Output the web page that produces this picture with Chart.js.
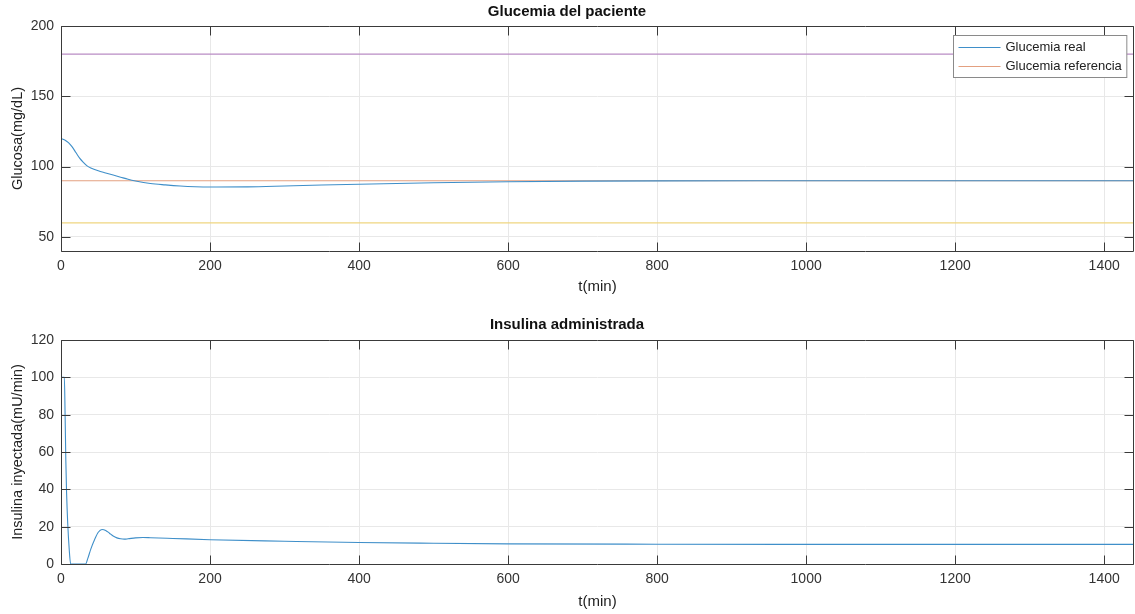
<!DOCTYPE html>
<html>
<head>
<meta charset="utf-8">
<script src="https://cdn.jsdelivr.net/npm/chart.js@4/dist/chart.umd.min.js"></script>
<style>
  html, body { margin: 0; padding: 0; background: #ffffff; }
  #wrap { position: relative; width: 1135px; height: 614px; background: #fff; }
  canvas { display: block; position: absolute; left: 0; }
  #c1 { top: 0; }
  #c2 { top: 300px; }
</style>
</head>
<body>
<div id="wrap">
  <canvas id="c1" width="1135" height="300"></canvas>
  <canvas id="c2" width="1135" height="314"></canvas>
</div>
<script>
// ---------- DATA ----------
const xTicks = [0, 200, 400, 600, 800, 1000, 1200, 1400];
const tMax = 1440;

const glucoseTicks = [50, 100, 150, 200];
const insulinTicks = [0, 20, 40, 60, 80, 100, 120];

const glucoseTime = [0, 5, 10, 15, 20, 25, 30, 35, 40, 50, 60, 70, 80, 90, 100, 120, 140, 160, 180, 200, 250, 300, 350, 400, 500, 600, 700, 800, 1000, 1200, 1440];
const glucoseReal = [120, 119, 117, 114, 110, 106, 103, 100.5, 99, 97, 95.5, 94, 92.5, 91, 89.8, 88, 87, 86.2, 85.7, 85.5, 85.6, 86.2, 86.9, 87.5, 88.5, 89.2, 89.7, 89.9, 90, 90, 90];

const glucoseReference = 90;
const glucoseUpperLimit = 180;
const glucoseLowerLimit = 60;

const insulinTime = [0, 4.5, 5.5, 6.5, 7.5, 9, 11, 13, 33, 36, 40, 45, 50, 55, 60, 65, 70, 75, 80, 85, 90, 100, 110, 120, 150, 200, 300, 400, 500, 600, 800, 1000, 1200, 1440];
const insulinValues = [100, 100, 80, 55, 38, 22, 8, 0, 0, 3, 8, 13, 17, 18.5, 18, 16.5, 15, 14, 13.5, 13.3, 13.5, 14, 14.2, 14.1, 13.7, 13, 12.2, 11.5, 11.1, 10.8, 10.6, 10.5, 10.5, 10.5];

const labels = {
  title1: 'Glucemia del paciente',
  title2: 'Insulina administrada',
  xTitle: 't(min)',
  y1Title: 'Glucosa(mg/dL)',
  y2Title: 'Insulina inyectada(mU/min)',
  real: 'Glucemia real',
  ref: 'Glucemia referencia'
};

// ---------- STYLE ----------
const FONT = '"Liberation Sans", Arial, Helvetica, sans-serif';
const C_BLUE = '#3f8fc9';
const C_ORANGE = '#e3a080';
const C_YELLOW = '#efd680';
const C_PURPLE = '#b98cc4';
const C_AXIS = '#3a3a3a';
const C_GRID = '#e8e8e8';
const C_TEXT = '#333333';

function pts(xs, ys) { return xs.map((x, i) => ({ x: x, y: ys[i] })); }
function hline(v) { return [{ x: 0, y: v }, { x: tMax, y: v }]; }

// Box, inward ticks (MATLAB style) and optional legend
const matlabAxes = {
  id: 'matlabAxes',
  afterDatasetsDraw(chart, args, opts) {
    const ctx = chart.ctx;
    const a = chart.chartArea;
    const L = Math.round(a.left) + 0.5, R = Math.round(a.right) - 0.5;
    const T = Math.round(a.top) + 0.5, B = Math.round(a.bottom) + 0.5;
    ctx.save();
    ctx.strokeStyle = C_AXIS;
    ctx.lineWidth = 1;
    ctx.beginPath();
    ctx.moveTo(L, T); ctx.lineTo(R, T); ctx.lineTo(R, B); ctx.lineTo(L, B); ctx.closePath();
    ctx.stroke();
    const tl = 9;
    const xs = chart.scales.x, ys = chart.scales.y;
    ctx.beginPath();
    xs.ticks.forEach(t => {
      const px = Math.round(xs.getPixelForValue(t.value)) + 0.5;
      ctx.moveTo(px, B); ctx.lineTo(px, B - tl);
      ctx.moveTo(px, T); ctx.lineTo(px, T + tl);
    });
    ys.ticks.forEach(t => {
      const py = Math.round(ys.getPixelForValue(t.value)) + 0.5;
      ctx.moveTo(L, py); ctx.lineTo(L + tl, py);
      ctx.moveTo(R, py); ctx.lineTo(R - tl, py);
    });
    ctx.stroke();

    if (opts && opts.legend) {
      const items = opts.legend;
      ctx.font = '13px ' + FONT;
      let maxW = 0;
      items.forEach(it => { maxW = Math.max(maxW, ctx.measureText(it.text).width); });
      const lineLen = 42, gap = 5, padL = 5, padR = 5, rowH = 19;
      const w = padL + lineLen + gap + maxW + padR;
      const h = rowH * items.length + 4;
      const bx = Math.round(a.right - 8 - w) + 0.5;
      const by = Math.round(a.top + 9) + 0.5;
      ctx.fillStyle = '#ffffff';
      ctx.fillRect(bx, by, w, h);
      ctx.strokeStyle = '#8a8a8a';
      ctx.strokeRect(bx, by, w, h);
      items.forEach((it, i) => {
        const cy = by + 2 + rowH * i + rowH / 2;
        ctx.strokeStyle = it.color;
        ctx.lineWidth = 1.2;
        ctx.beginPath();
        ctx.moveTo(bx + padL, Math.round(cy) + 0.5);
        ctx.lineTo(bx + padL + lineLen, Math.round(cy) + 0.5);
        ctx.stroke();
        ctx.fillStyle = '#222';
        ctx.textBaseline = 'middle';
        ctx.textAlign = 'left';
        ctx.fillText(it.text, bx + padL + lineLen + gap, cy);
      });
    }
    ctx.restore();
  }
};

function makeOptions(cfg) {
  return {
    responsive: false,
    animation: false,
    devicePixelRatio: 1,
    layout: { padding: { left: 0, right: 1, top: 0, bottom: 0 } },
    plugins: {
      legend: { display: false },
      tooltip: { enabled: false },
      title: {
        display: true,
        text: cfg.title,
        color: '#111',
        font: { family: FONT, size: 15, weight: 'bold', lineHeight: 1.2 },
        padding: { top: cfg.titleTop, bottom: cfg.titleBottom }
      },
      matlabAxes: { legend: cfg.legend || null }
    },
    scales: {
      x: {
        type: 'linear',
        min: 0, max: tMax,
        afterBuildTicks: s => { s.ticks = xTicks.map(v => ({ value: v })); },
        afterFit: s => { s.height = cfg.xHeight; },
        grid: { color: C_GRID, drawTicks: false, lineWidth: 1 },
        border: { display: false },
        ticks: { color: C_TEXT, font: { family: FONT, size: 14 }, padding: 7, maxRotation: 0, autoSkip: false, callback: v => String(v) },
        title: { display: true, text: labels.xTitle, color: '#222', font: { family: FONT, size: 15, lineHeight: 1.2 }, padding: { top: 0, bottom: cfg.xTitleBottom } }
      },
      y: {
        type: 'linear',
        min: cfg.yMin, max: cfg.yMax,
        afterBuildTicks: s => { s.ticks = cfg.yTicks.map(v => ({ value: v })); },
        afterFit: s => { s.width = 61; },
        grid: { color: C_GRID, drawTicks: false, lineWidth: 1 },
        border: { display: false },
        ticks: { color: C_TEXT, font: { family: FONT, size: 14 }, padding: 7, autoSkip: false, callback: v => String(v) },
        title: { display: true, text: cfg.yTitle, color: '#222', font: { family: FONT, size: 14.5, lineHeight: 1.2 }, padding: { top: 9, bottom: 0 } }
      }
    }
  };
}

const lineDefaults = { pointRadius: 0, borderWidth: 1.1, fill: false, tension: 0 };

new Chart(document.getElementById('c1'), {
  type: 'line',
  data: {
    datasets: [
      Object.assign({ label: labels.real, data: pts(glucoseTime, glucoseReal), borderColor: C_BLUE }, lineDefaults, { cubicInterpolationMode: 'monotone' }),
      Object.assign({ label: labels.ref, data: hline(glucoseReference), borderColor: C_ORANGE }, lineDefaults),
      Object.assign({ label: 'Límite superior', data: hline(glucoseUpperLimit), borderColor: C_PURPLE }, lineDefaults),
      Object.assign({ label: 'Límite inferior', data: hline(glucoseLowerLimit), borderColor: C_YELLOW }, lineDefaults)
    ]
  },
  options: makeOptions({
    title: labels.title1, titleTop: 3, titleBottom: 5,
    xHeight: 49, xTitleBottom: 4,
    yMin: 40, yMax: 200, yTicks: glucoseTicks, yTitle: labels.y1Title,
    legend: [{ text: labels.real, color: C_BLUE }, { text: labels.ref, color: C_ORANGE }]
  }),
  plugins: [matlabAxes]
});

new Chart(document.getElementById('c2'), {
  type: 'line',
  data: {
    datasets: [
      Object.assign({ label: 'Insulina', data: pts(insulinTime, insulinValues), borderColor: C_BLUE }, lineDefaults, { cubicInterpolationMode: 'monotone' })
    ]
  },
  options: makeOptions({
    title: labels.title2, titleTop: 16, titleBottom: 6,
    xHeight: 50, xTitleBottom: 3,
    yMin: 0, yMax: 120, yTicks: insulinTicks, yTitle: labels.y2Title
  }),
  plugins: [matlabAxes]
});
</script>
</body>
</html>
